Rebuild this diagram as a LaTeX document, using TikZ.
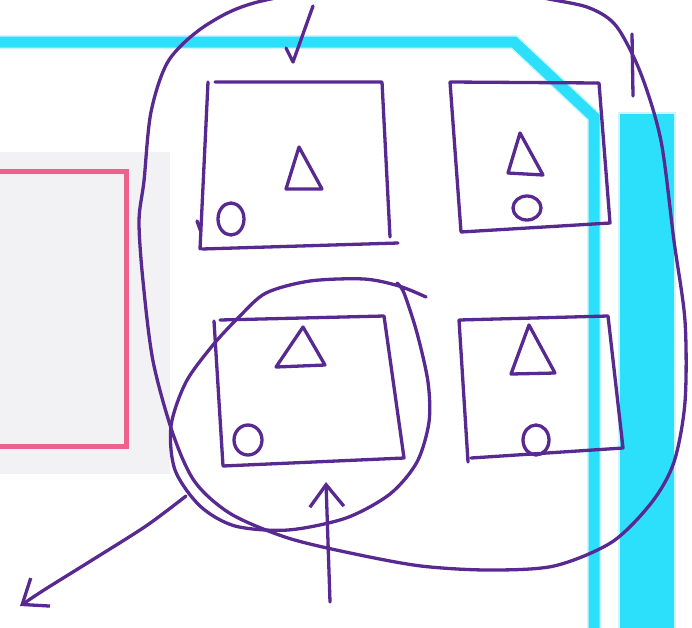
\documentclass[tikz,border=0pt]{standalone}
\usepackage{tikz}
\usetikzlibrary{arrows.meta}
\definecolor{penpurple}{RGB}{88,42,145}
\definecolor{markcyan}{RGB}{44,224,252}
\definecolor{markpink}{RGB}{236,98,140}
\definecolor{paper}{RGB}{242,242,245}
\tikzset{
  ink/.style={draw=penpurple, line width=3.3pt, line cap=round, line join=round},
  inkarrow/.style={ink, -{Straight Barb[length=22pt, width=34pt, line width=3.3pt]}},
  hl/.style={draw=markcyan, line width=11pt},
  hlglow/.style={draw=markcyan!25, line width=14pt},
  frame/.style={draw=markpink, line width=5pt},
  sheet/.style={fill=paper}
}
\begin{document}
\begin{tikzpicture}[x=1pt, y=-1pt]
  \useasboundingbox (0,0) rectangle (692,627);
  \clip (0,0) rectangle (692,627);
  \fill[sheet] (0,152) rectangle (170,474);
  \draw[frame] (-10,171) rectangle (126,446);
  \draw[hlglow] (-10,42) -- (514,42) -- (594,117) -- (594,640);
  \draw[hl] (-10,42) -- (514,42) -- (594,117) -- (594,640);
  \fill[markcyan!25] (618,112) rectangle (676,640);
  \fill[markcyan] (620,114) rectangle (674,640);
  \draw[ink] (208,82) -- (200,249) (215,82) -- (382,82) -- (390,237) (202,249) -- (398,243) (197,221) -- (201,232);
  \draw[ink] (450,82) -- (461,232) (450,82) -- (599,83) -- (610,223) -- (461,232);
  \draw[ink] (214,321) -- (223,466) (220,320) -- (384,316) -- (404,458) -- (223,466);
  \draw[ink] (459,320) -- (468,462) (459,320) -- (608,316) -- (623,448) -- (471,458);
  \foreach \ax/\ay/\lx/\ly/\rx/\ry in {299/147/286/189/322/189, 520/133/508/173/543/175, 303/327/276/367/325/365, 529/325/511/374/555/373}
    \draw[ink] (\ax,\ay) -- (\lx,\ly) -- (\rx,\ry) -- cycle;
  \foreach \cx/\cy/\wx/\wy in {231/219/13/16, 527/208/14/12, 248/440/14/15, 536/440/13/15}
    \draw[ink] (\cx,\cy) ellipse [x radius=\wx pt, y radius=\wy pt];
  \draw[ink] plot[smooth cycle] coordinates {(420,-22) (554,0) (592,9) (617,27) (641,74) (661,141) (674,241) (685,321) (685,402) (674,462) (652,502) (612,542) (554,566) (488,570) (421,566) (355,554) (288,538) (231,514) (195,482) (173,434) (153,361) (143,281) (139,221) (144,181) (151,112) (169,60) (208,24) (266,0)};
  \draw[ink] plot[smooth] coordinates {(426,297) (399,286) (364,279) (310,281) (266,293) (239,317) (213,345) (186,382) (171,426) (175,470) (200,506) (235,526) (288,530) (346,518) (390,494) (417,462) (429,422) (428,382) (417,333) (404,293) (397,283)};
  \draw[inkarrow] plot[smooth] coordinates {(186,496) (146,526) (89,562) (44,590) (20,606)};
  \draw[inkarrow] (330,602) -- (326,482);
  \draw[ink] (286,48) -- (293,62) -- (313,6);
  \draw[ink] (632,34) -- (633,96);
\end{tikzpicture}
\end{document}
